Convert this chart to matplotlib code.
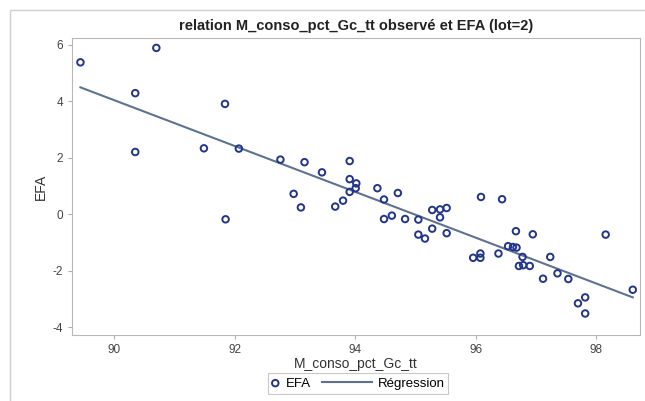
import numpy as np
import matplotlib.pyplot as plt
from matplotlib.patches import Rectangle

# values
conso = [89.44, 90.70, 90.35, 90.35, 91.84, 91.49, 92.07, 91.85, 92.76, 93.16,
         93.91, 93.45, 92.98, 93.10, 93.91, 94.02, 94.01, 93.91, 93.80, 93.67,
         94.37, 94.48, 94.71, 94.48, 94.61, 94.83, 95.05, 95.28, 95.41, 95.52,
         95.41, 95.28, 95.05, 95.16, 95.52, 96.09, 96.44, 96.67, 96.95, 96.54,
         96.62, 96.68, 98.16, 95.96, 96.08, 96.08, 96.38, 96.78, 97.24, 96.72,
         96.79, 96.90, 97.12, 97.36, 97.54, 98.61, 97.82, 97.70, 97.82]
efa = [5.37, 5.88, 4.28, 2.20, 3.90, 2.33, 2.32, -0.18, 1.93, 1.84,
       1.88, 1.48, 0.72, 0.24, 1.24, 1.09, 0.92, 0.79, 0.48, 0.27,
       0.92, 0.52, 0.75, -0.17, -0.05, -0.17, -0.19, 0.15, 0.17, 0.22,
       -0.11, -0.51, -0.72, -0.86, -0.67, 0.61, 0.53, -0.60, -0.71, -1.13,
       -1.16, -1.18, -0.72, -1.54, -1.39, -1.54, -1.39, -1.51, -1.51, -1.83,
       -1.80, -1.83, -2.28, -2.09, -2.29, -2.67, -2.94, -3.15, -3.51]
xticks = [90, 92, 94, 96, 98]
yticks = [-4, -2, 0, 2, 4, 6]

x = np.array(conso)
y = np.array(efa)
slope, intercept = np.polyfit(x, y, 1)
xs = np.array([x.min(), x.max()])

plt.rcParams['font.family'] = ['Liberation Sans', 'DejaVu Sans']
plt.rcParams['axes.unicode_minus'] = False

fig = plt.figure(figsize=(6.45, 4.01), dpi=100)
ax = fig.add_axes([72 / 645, 1 - 335 / 401, 568 / 645, 297 / 401])

# outer frame of the SAS output
fig.patches.append(Rectangle((10 / 645, -0.01), 1.0, 1 - 10 / 401 + 0.01,
                             transform=fig.transFigure, fill=False,
                             edgecolor='#d0d0d0', linewidth=1))

line, = ax.plot(xs, slope * xs + intercept, color='#5d7290', linewidth=1.5,
                label='Régression', zorder=2)
pts = ax.scatter(x, y, s=22, facecolors='none', edgecolors='#23358a',
                 linewidths=1.4, label='EFA', zorder=3)

ax.set_xlim(89.30, 98.73)
ax.set_ylim(-4.27, 6.23)
ax.set_xticks(xticks)
ax.set_yticks(yticks)
ax.tick_params(colors='#b0b0b0', labelcolor='#444444', labelsize=8.5, length=3)
for s in ax.spines.values():
    s.set_color('#b8b8b8')

ax.set_xlabel('M_conso_pct_Gc_tt', fontsize=10, color='#333333', labelpad=0.5)
ax.set_ylabel('EFA', fontsize=10, color='#333333', labelpad=3)
ax.set_title('relation M_conso_pct_Gc_tt observé et EFA (lot=2)',
             fontsize=10.5, fontweight='bold', color='#222222', pad=6)

# legend: two pieces inside one frame
yc = 1 - 383.5 / 401
kw = dict(loc='center left', fontsize=9.5, frameon=False,
          borderpad=0, handletextpad=0.4, borderaxespad=0)
leg1 = fig.legend([pts], ['EFA'], bbox_to_anchor=(270 / 645, yc),
                  handlelength=0.8, **kw)
leg2 = fig.legend([line], ['Régression'], bbox_to_anchor=(322 / 645, yc),
                  handlelength=3.8, **kw)
fig.patches.append(Rectangle((268 / 645, 1 - 394 / 401), 180 / 645, 21 / 401,
                             transform=fig.transFigure, fill=False,
                             edgecolor='#c8c8c8', linewidth=0.8))

fig.savefig('out.png', dpi=100)
